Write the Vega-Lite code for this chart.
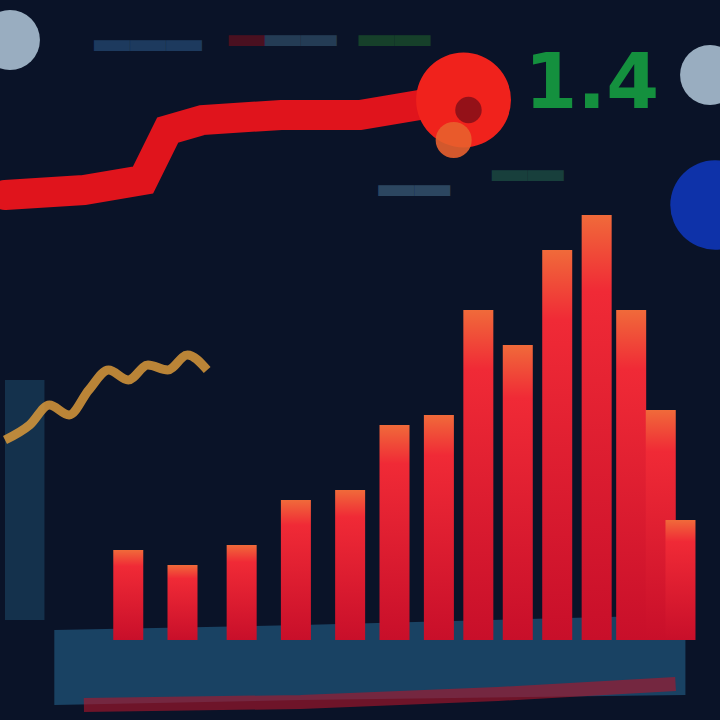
{
  "$schema": "https://vega.github.io/schema/vega-lite/v6.json",
  "autosize": "none",
  "width": 720,
  "height": 720,
  "padding": 0,
  "background": "#0a1328",
  "config": {"view": {"stroke": null}},
  "layer": [
    {
      "data": {"values": [{"x": 0, "x2": 4, "y": 10, "y2": 34}]},
      "mark": {"type": "rect", "color": "#153550", "opacity": 0.9},
      "encoding": {
        "x": {"field": "x", "type": "quantitative", "scale": {"domain": [0, 72], "nice": false, "zero": false}, "axis": null},
        "x2": {"field": "x2"},
        "y": {"field": "y", "type": "quantitative", "scale": {"domain": [0, 72], "nice": false, "zero": false}, "axis": null},
        "y2": {"field": "y2"}
      }
    },
    {
      "data": {"values": [
        {"x": 5, "lo": 1.5, "hi": 9},
        {"x": 30, "lo": 2, "hi": 9.5},
        {"x": 69, "lo": 2.5, "hi": 10.5}
      ]},
      "mark": {"type": "area", "color": "#1a4566", "opacity": 0.95},
      "encoding": {
        "x": {"field": "x", "type": "quantitative"},
        "y": {"field": "lo", "type": "quantitative"},
        "y2": {"field": "hi"}
      }
    },
    {
      "data": {"values": [
        {"x": 8, "v": 1.5}, {"x": 30, "v": 1.8}, {"x": 50, "v": 2.6}, {"x": 68, "v": 3.6}
      ]},
      "mark": {"type": "line", "color": "#b0162a", "strokeWidth": 14, "opacity": 0.6},
      "encoding": {
        "x": {"field": "x", "type": "quantitative"},
        "y": {"field": "v", "type": "quantitative"}
      }
    },
    {
      "data": {"values": [
        {"x": 12.5, "v": 17},
        {"x": 18, "v": 15.5},
        {"x": 24, "v": 17.5},
        {"x": 29.5, "v": 22},
        {"x": 35, "v": 23},
        {"x": 39.5, "v": 29.5},
        {"x": 44, "v": 30.5},
        {"x": 48, "v": 41},
        {"x": 52, "v": 37.5},
        {"x": 56, "v": 47},
        {"x": 60, "v": 50.5},
        {"x": 63.5, "v": 41},
        {"x": 66.5, "v": 31},
        {"x": 68.5, "v": 20}
      ]},
      "mark": {
        "type": "bar",
        "size": 30,
        "color": {
          "gradient": "linear", "x1": 0, "y1": 0, "x2": 0, "y2": 1,
          "stops": [
            {"offset": 0, "color": "#f06a3a"},
            {"offset": 0.18, "color": "#f02a36"},
            {"offset": 1, "color": "#c80f2a"}
          ]
        }
      },
      "encoding": {
        "x": {"field": "x", "type": "quantitative"},
        "y": {"field": "v", "type": "quantitative"},
        "y2": {"datum": 8}
      }
    },
    {
      "data": {"values": [
        {"x": 0, "v": 28}, {"x": 2.5, "v": 29.5}, {"x": 4.5, "v": 31.5}, {"x": 6.5, "v": 30.5},
        {"x": 8.5, "v": 33}, {"x": 10.5, "v": 35}, {"x": 12.5, "v": 34}, {"x": 14.5, "v": 35.5},
        {"x": 16.5, "v": 35}, {"x": 18.5, "v": 36.5}, {"x": 20.5, "v": 35}
      ]},
      "mark": {"type": "line", "color": "#d9993a", "strokeWidth": 9, "opacity": 0.85, "interpolate": "monotone"},
      "encoding": {
        "x": {"field": "x", "type": "quantitative"},
        "y": {"field": "v", "type": "quantitative"}
      }
    },
    {
      "data": {"values": [
        {"x": 0, "v": 52.5}, {"x": 8, "v": 53}, {"x": 14, "v": 54}, {"x": 16.5, "v": 59},
        {"x": 20, "v": 60}, {"x": 28, "v": 60.5}, {"x": 36, "v": 60.5}, {"x": 42, "v": 61.5}, {"x": 46, "v": 62.5}
      ]},
      "mark": {"type": "line", "color": "#e0141c", "strokeWidth": 30, "strokeCap": "round"},
      "encoding": {
        "x": {"field": "x", "type": "quantitative"},
        "y": {"field": "v", "type": "quantitative"}
      }
    },
    {
      "data": {"values": [{"x": 46.5, "v": 62}]},
      "mark": {"type": "circle", "color": "#f0221c", "size": 9000, "opacity": 1},
      "encoding": {
        "x": {"field": "x", "type": "quantitative"},
        "y": {"field": "v", "type": "quantitative"}
      }
    },
    {
      "data": {"values": [{"x": 47, "v": 61}]},
      "mark": {"type": "circle", "color": "#8a1018", "size": 700, "opacity": 0.9},
      "encoding": {
        "x": {"field": "x", "type": "quantitative"},
        "y": {"field": "v", "type": "quantitative"}
      }
    },
    {
      "data": {"values": [{"x": 45.5, "v": 58}]},
      "mark": {"type": "circle", "color": "#e8602e", "size": 1300, "opacity": 0.9},
      "encoding": {
        "x": {"field": "x", "type": "quantitative"},
        "y": {"field": "v", "type": "quantitative"}
      }
    },
    {
      "data": {"values": [{"x": 72, "v": 51.5}]},
      "mark": {"type": "circle", "color": "#1040e0", "size": 8000},
      "encoding": {
        "x": {"field": "x", "type": "quantitative"},
        "y": {"field": "v", "type": "quantitative"}
      }
    },
    {
      "data": {"values": [
        {"x": 59.5, "v": 63.5, "t": "1.4"}
      ]},
      "mark": {"type": "text", "fontSize": 76, "fontWeight": "bold", "font": "DejaVu Sans", "color": "#14903e", "baseline": "middle", "align": "center"},
      "encoding": {
        "x": {"field": "x", "type": "quantitative"},
        "y": {"field": "v", "type": "quantitative"},
        "text": {"field": "t"}
      }
    },
    {
      "data": {"values": [
        {"x": 14.5, "v": 68, "t": "▬▬▬", "c": "#1d3a5e"},
        {"x": 24.5, "v": 68.5, "t": "▬", "c": "#4a1020"},
        {"x": 30, "v": 68.5, "t": "▬▬", "c": "#243c55"},
        {"x": 39.5, "v": 68.5, "t": "▬▬", "c": "#16402a"},
        {"x": 41.5, "v": 53.5, "t": "▬▬", "c": "#2c4660"},
        {"x": 53, "v": 55, "t": "▬▬", "c": "#183f3c"}
      ]},
      "mark": {"type": "text", "fontSize": 36, "baseline": "middle", "align": "center"},
      "encoding": {
        "x": {"field": "x", "type": "quantitative"},
        "y": {"field": "v", "type": "quantitative"},
        "text": {"field": "t"},
        "color": {"field": "c", "type": "nominal", "scale": null, "legend": null}
      }
    },
    {
      "data": {"values": [
        {"x": 0.5, "v": 68},
        {"x": 71.5, "v": 64.5}
      ]},
      "mark": {"type": "circle", "color": "#a9bfd0", "size": 3600, "opacity": 0.9},
      "encoding": {
        "x": {"field": "x", "type": "quantitative"},
        "y": {"field": "v", "type": "quantitative"}
      }
    }
  ]
}
